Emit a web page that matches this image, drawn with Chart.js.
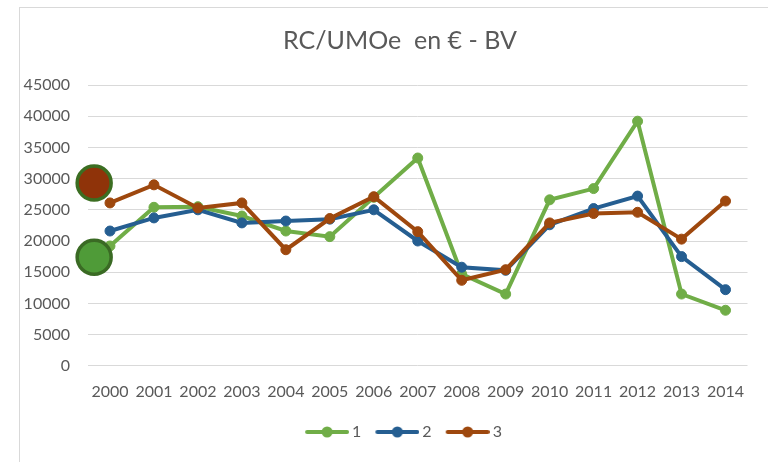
<!DOCTYPE html>
<html>
<head>
<meta charset="utf-8">
<script src="https://cdn.jsdelivr.net/npm/chart.js@4/dist/chart.umd.min.js"></script>
<style>
  html, body { margin: 0; padding: 0; background: #fff; }
  #frame {
    position: absolute; left: 19px; top: 7px; width: 760px; height: 470px;
    border-left: 1px solid #d9d9d9; border-top: 1px solid #d9d9d9;
  }
  #wrap { position: absolute; left: 0; top: 0; width: 768px; height: 462px; }
</style>
</head>
<body>
<div id="frame"></div>
<div id="wrap"><canvas id="chart" width="768" height="462"></canvas></div>
<script>
const years = ['2000', '2001', '2002', '2003', '2004', '2005', '2006', '2007',
               '2008', '2009', '2010', '2011', '2012', '2013', '2014'];

const serie1 = [19200, 25400, 25500, 24000, 21600, 20700, 27000, 33300,
                14700, 11500, 26600, 28400, 39200, 11500, 8900];
const serie2 = [21600, 23700, 25000, 22900, 23200, 23500, 25000, 20000,
                15800, 15300, 22600, 25200, 27200, 17500, 12200];
const serie3 = [26100, 29000, 25300, 26100, 18600, 23600, 27100, 21500,
                13700, 15400, 22900, 24400, 24600, 20300, 26400];

// highlight circles left of the first year (x in category steps)
const markX = [-0.36, -0.36];
const markY = [29300, 17400];

const green = '#70AD47', blue = '#255E91', brown = '#9E480E';
const textColor = '#595959';
const fontFamily = 'Lato, "Open Sans", sans-serif';

// line-with-dot swatch for the legend; drawn on the right part of the image
// so it sits close to its label
function swatch(color) {
  const c = document.createElement('canvas');
  c.width = 56; c.height = 12;
  const g = c.getContext('2d');
  g.strokeStyle = color;
  g.lineWidth = 4;
  g.lineCap = 'round';
  g.beginPath(); g.moveTo(14, 6); g.lineTo(54, 6); g.stroke();
  g.fillStyle = color;
  g.beginPath(); g.arc(34, 6, 5.5, 0, Math.PI * 2); g.fill();
  return c;
}

function lineSet(label, data, color, order) {
  return {
    label: label, data: data, order: order,
    borderColor: color, backgroundColor: color,
    borderWidth: 4, pointRadius: 5, pointBorderWidth: 1,
    pointBackgroundColor: color, pointBorderColor: color,
    tension: 0, clip: false, legendSwatch: swatch(color)
  };
}

// let the y tick labels draw past the left edge of their box
const freeLabels = {
  id: 'freeLabels',
  afterLayout(c) { c.scales.y.left = 0; }
};

let ctx = document.getElementById('chart').getContext('2d');

let chart = new Chart(ctx, {
  type: 'line',
  data: {
    labels: years,
    datasets: [
      lineSet('1', serie1, green, 3),
      lineSet('2', serie2, blue, 2),
      lineSet('3', serie3, brown, 1),
      {
        label: 'marks',
        data: markX.map((x, i) => ({ x: x, y: markY[i] })),
        xAxisID: 'xm',
        showLine: false,
        order: 0,
        clip: false,
        pointRadius: 17,
        pointBorderWidth: 3.5,
        pointBackgroundColor: ['#8F3309', '#4F9B38'],
        pointBorderColor: ['#3B6E22', '#3A6A24']
      }
    ]
  },
  plugins: [freeLabels],
  options: {
    responsive: false,
    animation: false,
    events: [],
    layout: { padding: { left: 37, right: 5, top: 26, bottom: 12 } },
    plugins: {
      title: {
        display: true,
        text: 'RC/UMOe  en € - BV',
        color: textColor,
        font: { family: fontFamily, size: 25, weight: 'normal' },
        padding: { top: 0, bottom: 29 }
      },
      legend: {
        position: 'bottom',
        labels: {
          usePointStyle: true,
          pointStyleWidth: 46,
          color: textColor,
          font: { family: fontFamily, size: 16 },
          padding: 7,
          generateLabels: c => c.data.datasets
            .map((d, i) => ({ d: d, i: i }))
            .filter(o => o.d.legendSwatch)
            .map(o => ({
              text: o.d.label,
              datasetIndex: o.i,
              pointStyle: o.d.legendSwatch,
              fontColor: textColor,
              lineWidth: 0,
              strokeStyle: 'transparent',
              fillStyle: 'transparent'
            }))
        }
      },
      tooltip: { enabled: false }
    },
    scales: {
      x: {
        offset: true,
        grid: { display: false, drawTicks: false },
        border: { display: false },
        ticks: {
          color: textColor,
          font: { family: fontFamily, size: 16 },
          padding: 16,
          maxRotation: 0,
          autoSkip: false
        }
      },
      xm: { type: 'linear', display: false, min: -0.5, max: 14.5 },
      y: {
        min: 0,
        max: 45000,
        afterFit: s => { s.width = 51; },
        grid: { color: '#d9d9d9', lineWidth: 1, drawTicks: false },
        border: { display: false },
        ticks: {
          stepSize: 5000,
          color: textColor,
          font: { family: fontFamily, size: 16 },
          padding: 18,
          callback: v => String(v)
        }
      }
    }
  }
});
</script>
</body>
</html>
